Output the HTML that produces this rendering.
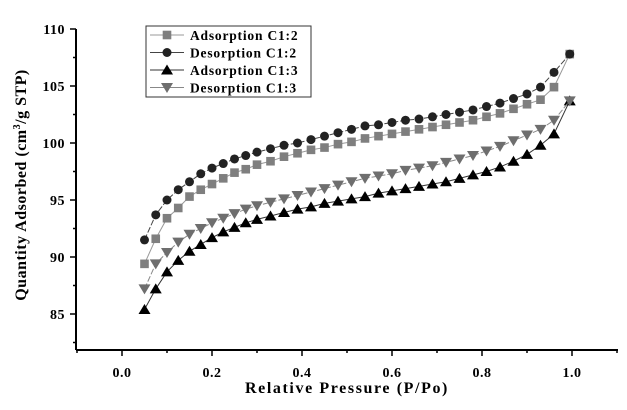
<!DOCTYPE html>
<html><head><meta charset="utf-8"><style>
body{margin:0;background:#fff;}
svg text{font-family:"Liberation Serif",serif;font-weight:bold;}
</style></head><body>
<svg width="627" height="405" viewBox="0 0 627 405" id="chart">
</svg>
<script>
const xVals=[0.05,0.075,0.1,0.125,0.15,0.175,0.2,0.225,0.25,0.275,0.3,0.33,0.36,0.39,0.42,0.45,0.48,0.51,0.54,0.57,0.6,0.63,0.66,0.69,0.72,0.75,0.78,0.81,0.84,0.87,0.9,0.93,0.96,0.995];
const adsC12=[89.4,91.6,93.4,94.3,95.3,95.9,96.4,96.9,97.4,97.7,98.1,98.4,98.8,99.1,99.4,99.6,99.9,100.1,100.4,100.6,100.8,101.0,101.2,101.4,101.6,101.8,102.0,102.3,102.6,103.0,103.4,103.8,104.9,107.8];
const desC12=[91.5,93.7,95.0,95.9,96.6,97.3,97.8,98.2,98.6,98.9,99.2,99.5,99.8,100.0,100.3,100.6,100.9,101.2,101.5,101.6,101.8,102.0,102.1,102.3,102.5,102.7,102.9,103.2,103.5,103.9,104.3,104.9,106.2,107.8];
const adsC13=[85.4,87.2,88.7,89.7,90.5,91.1,91.7,92.2,92.6,93.0,93.3,93.6,93.9,94.2,94.4,94.7,94.9,95.1,95.3,95.6,95.8,96.0,96.2,96.4,96.6,96.9,97.2,97.5,97.9,98.4,99.0,99.8,100.8,103.7];
const desC13=[87.2,89.4,90.4,91.3,92.0,92.5,93.0,93.4,93.8,94.2,94.5,94.8,95.1,95.4,95.7,96.0,96.3,96.6,96.9,97.1,97.3,97.6,97.8,98.0,98.3,98.6,98.9,99.3,99.7,100.2,100.7,101.2,102.0,103.7];
const xTicks=[0.0,0.2,0.4,0.6,0.8,1.0];
const yTicks=[85,90,95,100,105,110];
const seriesNames=["Adsorption C1:2","Desorption C1:2","Adsorption C1:3","Desorption C1:3"];

const svg=document.getElementById('chart');
const NS='http://www.w3.org/2000/svg';
const X=v=>122+(v-0)*450;
const Y=v=>29+(110-v)*11.4;
function mk(t,a,p){const e=document.createElementNS(NS,t);for(const k in a)e.setAttribute(k,a[k]);(p||svg).appendChild(e);return e;}

const axisL=mk('line',{x1:76,y1:29,x2:76,y2:350,stroke:'#000','stroke-width':2});


const axisB=mk('line',{x1:76,y1:350,x2:618,y2:350,stroke:'#000','stroke-width':2});


for(let v=-0.1;v<=1.101;v+=0.1){const x=X(v);const major=Math.abs(Math.round(v*10)%2)==0;mk('line',{x1:x,y1:350,x2:x,y2:major?356:353,stroke:'#000','stroke-width':1.5});}
for(let v=82.5;v<=110.01;v+=2.5){const y=Y(v);const major=v%5==0;mk('line',{x1:76,y1:y,x2:major?70:73,y2:y,stroke:'#000','stroke-width':1.5});}
xTicks.forEach(t=>{const e=mk('text',{x:X(t),y:377,'text-anchor':'middle','font-size':14,'letter-spacing':0.5});e.textContent=t.toFixed(1);

});
yTicks.forEach(t=>{const e=mk('text',{x:65,y:Y(t)+5,'text-anchor':'end','font-size':14,'letter-spacing':0.5});e.textContent=t;

});
const xt=mk('text',{x:347,y:393,'text-anchor':'middle','font-size':16,'letter-spacing':1.6});xt.textContent='Relative Pressure (P/Po)';


const yt=mk('text',{x:0,y:0,'text-anchor':'middle','font-size':16,'letter-spacing':0.5,transform:'translate(26,185) rotate(-90)'});
yt.innerHTML='Quantity Adsorbed (cm<tspan font-size="10" dy="-6">3</tspan><tspan dy="6">/g STP)</tspan>';



function marker(g,type,x,y,c){
 if(type==='sq')mk('rect',{x:x-4.3,y:y-4.3,width:8.6,height:8.6,fill:c},g);
 else if(type==='ci')mk('circle',{cx:x,cy:y,r:4.5,fill:c},g);
 else if(type==='up')mk('polygon',{points:`${x},${y-5.5} ${x-6},${y+4.5} ${x+6},${y+4.5}`,fill:c},g);
 else mk('polygon',{points:`${x},${y+5.5} ${x-6},${y-4.5} ${x+6},${y-4.5}`,fill:c},g);
}
const series=[[adsC12,'sq','#7f7f7f','#999'],[desC12,'ci','#222','#444'],[adsC13,'up','#000','#333'],[desC13,'dn','#6e6e6e','#888']];
series.forEach((s,i)=>{
 const g=mk('g',{});
 
 
 mk('polyline',{points:s[0].map((v,j)=>X(xVals[j])+','+Y(v)).join(' '),fill:'none',stroke:s[3],'stroke-width':1,'stroke-dasharray':i%2?'6 2':'none'},g);
 s[0].forEach((v,j)=>marker(g,s[1],X(xVals[j]),Y(v),s[2]));
});

const lg=mk('g',{});


mk('rect',{x:146,y:26,width:165,height:71,fill:'#fff',stroke:'#333','stroke-width':1},lg);
series.forEach((s,i)=>{
 const y=35+i*17.5;
 const le=mk('g',{},lg);
 
 
 mk('line',{x1:150,y1:y,x2:184,y2:y,stroke:s[3],'stroke-width':1},le);
 marker(le,s[1],167,y,s[2]);
 const t=mk('text',{x:190,y:y+5,'font-size':13.5,'letter-spacing':0.8},le);t.textContent=seriesNames[i];
});
</script>
</body></html>
